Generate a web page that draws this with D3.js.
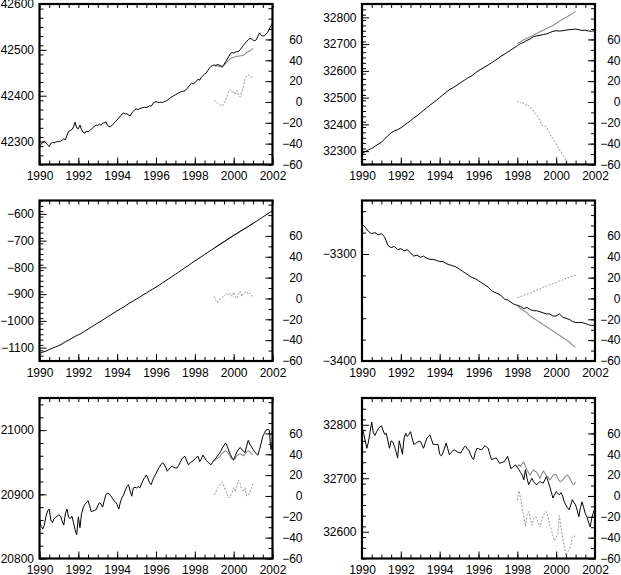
<!DOCTYPE html>
<html>
<head>
<meta charset="utf-8">
<script src="https://cdn.jsdelivr.net/npm/d3@7"></script>
<style>
body { margin: 0; background: #fff; }
text { font-family: "Liberation Sans", Arial, Helvetica, sans-serif; font-size: 12px; fill: #000; }
</style>
</head>
<body>
<svg id="chart" width="621" height="575"></svg>
<script>
// ---- data ----
const xYears = [1990, 1992, 1994, 1996, 1998, 2000, 2002];
const rightTicks = [-60, -40, -20, 0, 20, 40, 60];

// panel 1 (top left), monthly from 1990
const p1Black = [
  42290, 42294, 42298, 42300, 42297, 42293, 42289, 42296, 42298, 42297, 42299, 42300,
  42300, 42301, 42303, 42306, 42304, 42314, 42322, 42324, 42326, 42332, 42342, 42330,
  42328, 42336, 42326, 42320, 42318, 42323, 42321, 42324, 42327, 42330, 42334, 42336,
  42335, 42338, 42336, 42340, 42341, 42343, 42336, 42332, 42333, 42336, 42340, 42344,
  42347, 42352, 42355, 42360, 42362, 42360, 42361, 42358, 42356, 42362, 42366, 42370,
  42371, 42370, 42372, 42373, 42374, 42375, 42374, 42376, 42378, 42377, 42382, 42386,
  42387, 42386, 42385, 42386, 42385, 42387, 42388, 42390, 42393, 42396, 42398, 42400,
  42402, 42404, 42406, 42408, 42409, 42410, 42411, 42415, 42419, 42424, 42427, 42426,
  42428, 42432, 42436, 42434, 42440, 42444, 42447, 42449, 42455, 42460, 42464, 42466,
  42467, 42466, 42468, 42467, 42465, 42464, 42468, 42474, 42480, 42486, 42492, 42494,
  42493, 42495, 42496, 42497, 42500, 42505, 42510, 42514, 42518, 42522, 42525, 42524,
  42521, 42520, 42522, 42530, 42537, 42532, 42530, 42531, 42534, 42538, 42545, 42552,
  42558];
const p1Gray = [42466, 42465, 42465, 42464, 42463, 42462, 42466, 42470, 42474, 42478, 42481, 42483,
  42484, 42485, 42486, 42486, 42487, 42487, 42488, 42491, 42494, 42496, 42498, 42500, 42503];
const p1Diff = [2, 0, -1, -2, -3, -4, -1, 2, 6, 11, 12, 9, 10, 7, 11, 6, 5, 10, 14, 22, 25, 26, 25, 24, 22];

// panel 2 (top right), black and gray every two months
const p2Black = [
  32292, 32298, 32305, 32310, 32318, 32326,
  32333, 32345, 32358, 32368, 32376, 32380,
  32387, 32396, 32405, 32414, 32424, 32432,
  32442, 32452, 32462, 32472, 32481, 32490,
  32500, 32510, 32520, 32530, 32536, 32544,
  32552, 32560, 32568, 32576, 32582, 32592,
  32601, 32608, 32615, 32622, 32630, 32638,
  32646, 32655, 32662, 32670, 32678, 32686,
  32694, 32702, 32707, 32714, 32720, 32728,
  32731, 32733, 32736, 32738, 32743, 32748,
  32750, 32749, 32750, 32752, 32754, 32755,
  32756, 32754, 32751, 32752, 32749, 32748,
  32752];
const p2Gray = [32702, 32709, 32716, 32722, 32728, 32734, 32740, 32746, 32752, 32758,
  32764, 32770, 32778, 32786, 32793, 32800, 32807, 32814, 32822];
const p2Diff = [0, 1, -1, 0, -2, -3, -2, -4, -5, -7, -9, -11, -13, -15, -18, -22, -23, -23,
  -24, -27, -30, -33, -35, -38, -40, -43, -46, -48, -51, -53, -56, -59, -62, -66, -70, -73, -76];

// panel 3 (middle left)
const p3Black = [
  -1122, -1117, -1113, -1107, -1102, -1097,
  -1092, -1086, -1078, -1072, -1065, -1058,
  -1052, -1046, -1038, -1031, -1023, -1016,
  -1008, -1001, -993, -985, -978, -970,
  -962, -955, -949, -940, -932, -925,
  -918, -911, -903, -896, -888, -881,
  -874, -866, -858, -850, -842, -834,
  -826, -818, -809, -801, -793, -784,
  -776, -768, -760, -752, -744, -736,
  -728, -720, -712, -704, -696, -688,
  -680, -673, -665, -658, -651, -643,
  -636, -628, -620, -612, -604, -596,
  -588];
const p3Gray = [-728, -719, -712, -705, -697, -689, -681, -674, -666, -658, -651, -643, -636];
const p3Diff = [2, -2, -4, -1, 0, 1, 2, 4, 5, 3, 5, 2, 6, 2, 0, 4, 7, 2, 5, 6, 7, 4, 5, 3, 2];

// panel 4 (middle right)
const p4Black = [
  -3272, -3275, -3279, -3281, -3280, -3282,
  -3281, -3284, -3292, -3294, -3293, -3296,
  -3295, -3297, -3296, -3299, -3302, -3301,
  -3303, -3302, -3304, -3305, -3305, -3306,
  -3307, -3307, -3309, -3310, -3311, -3312,
  -3314, -3316, -3318, -3320, -3322, -3323,
  -3325, -3327, -3329, -3331, -3334, -3336,
  -3337, -3339, -3342, -3343, -3345, -3347,
  -3348, -3349, -3351, -3350, -3352, -3353,
  -3353, -3354, -3355, -3356, -3356, -3358,
  -3358, -3356, -3359, -3360, -3361, -3363,
  -3364, -3364, -3364, -3365, -3366, -3367,
  -3366];
const p4Gray = [-3348, -3351, -3353, -3355, -3358, -3360, -3362, -3364, -3366, -3368,
  -3370, -3372, -3374, -3376, -3378, -3380, -3382, -3385, -3387];
const p4Diff = [1, 1, 2, 2, 3, 4, 4, 5, 5, 6, 7, 7, 8, 9, 9, 10, 11, 11, 12, 13, 13,
  14, 14, 15, 15, 16, 17, 17, 18, 19, 19, 20, 20, 21, 21, 22, 22];

// panel 5 (bottom left), monthly
const p5Black = [
  20861, 20850, 20846, 20852, 20866, 20874, 20877, 20860, 20856, 20862, 20864, 20866,
  20868, 20866, 20858, 20852, 20870, 20877, 20864, 20862, 20866, 20856, 20845, 20837,
  20865, 20848, 20870, 20879, 20884, 20887, 20890, 20882, 20873, 20874, 20875, 20876,
  20882, 20887, 20885, 20880, 20890, 20899, 20902, 20901, 20898, 20894, 20890, 20888,
  20884, 20877, 20888, 20895, 20899, 20906, 20912, 20915, 20905, 20897, 20910, 20911,
  20910, 20912, 20910, 20916, 20922, 20926, 20930, 20925, 20918, 20915, 20922, 20928,
  20932, 20938, 20942, 20946, 20949, 20947, 20942, 20936, 20939, 20942, 20944, 20942,
  20941, 20941, 20945, 20950, 20955, 20958, 20959, 20952, 20946, 20948, 20951, 20952,
  20955, 20958, 20959, 20951, 20955, 20961, 20957, 20953, 20950, 20948, 20946, 20950,
  20954, 20956, 20960, 20963, 20967, 20972, 20976, 20980, 20975, 20968, 20962, 20957,
  20954, 20960, 20966, 20970, 20973, 20970, 20967, 20965, 20975, 20984, 20978, 20974,
  20970, 20966, 20963, 20961, 20970, 20980, 20990, 20995, 21000, 21001, 21000, 20970,
  20982];
const p5Gray = [20952, 20954, 20956, 20958, 20961, 20964, 20966, 20968, 20966, 20962, 20958, 20955,
  20953, 20956, 20960, 20962, 20963, 20962, 20960, 20962, 20966, 20968, 20966, 20963, 20962];
const p5Diff = [1, 4, 8, 10, 12, 13, 9, 5, 2, -2, 0, 3, 8, 4, 10, 15, 12, 6, 4, 8, 0, 1, 3, 8, 12];

// panel 6 (bottom right), monthly
const p6Black = [
  32797, 32784, 32770, 32756, 32768, 32787, 32805, 32785, 32780, 32787, 32792, 32796,
  32798, 32790, 32782, 32784, 32770, 32756, 32770, 32768, 32760, 32750, 32738, 32770,
  32758, 32745, 32775, 32784, 32778, 32782, 32787, 32775, 32763, 32765, 32767, 32769,
  32769, 32763, 32756, 32765, 32774, 32778, 32781, 32772, 32763, 32763, 32763, 32763,
  32745, 32742, 32747, 32756, 32766, 32755, 32744, 32748, 32751, 32753, 32751, 32749,
  32748, 32747, 32752, 32758, 32760, 32755, 32753, 32745, 32738, 32735, 32748, 32756,
  32755, 32754, 32753, 32757, 32761, 32758, 32756, 32745, 32735, 32736, 32737, 32738,
  32733, 32728, 32729, 32730, 32731, 32736, 32741, 32730, 32718, 32720, 32723, 32725,
  32720, 32716, 32711, 32706, 32697, 32716, 32700, 32688, 32694, 32700, 32694, 32690,
  32688, 32691, 32694, 32692, 32691, 32697, 32703, 32694, 32685, 32674, 32663, 32669,
  32675, 32672, 32669, 32673, 32667, 32656, 32650, 32645, 32641, 32650, 32660, 32655,
  32650, 32640, 32628, 32645, 32656, 32645, 32634, 32628, 32618, 32609, 32625, 32636,
  32644];
const p6Gray = [32722, 32725, 32722, 32728, 32730, 32722, 32716, 32710, 32706, 32712, 32715, 32713,
  32711, 32706, 32700, 32707, 32713, 32710, 32705, 32702, 32697, 32700, 32705, 32707,
  32707, 32700, 32695, 32694, 32697, 32700, 32704, 32706, 32702, 32697, 32690, 32688, 32693];
const p6Diff = [-4, 5, -2, -12, -20, -29, -18, -15, -22, -28, -22, -20, -21, -26, -30, -24, -19,
  -16, -15, -20, -28, -32, -38, -43, -40, -36, -19, -30, -40, -48, -57, -54, -52, -48, -40, -38, -40];

// ---- layout ----
const svg = d3.select('#chart');
const W = 233, H = 160.5;
const cols = [39.5, 362];
const rows = [4, 200.5, 398];
const rightLabelEnd = [30, 25.5];
const M = 1 / 12, B = 1 / 6;

const panels = [
  {col: 0, row: 0, left: [42250, 42600], leftTicks: [42300, 42400, 42500, 42600],
   black: [1990, M, p1Black], gray: [1999, M, p1Gray], diff: [1999, M, p1Diff]},
  {col: 1, row: 0, left: [32250, 32850], leftTicks: [32300, 32400, 32500, 32600, 32700, 32800],
   black: [1990, B, p2Black], gray: [1998, B, p2Gray], diff: [1998, M, p2Diff]},
  {col: 0, row: 1, left: [-1150, -550], leftTicks: [-1100, -1000, -900, -800, -700, -600],
   black: [1990, B, p3Black], gray: [1999, B, p3Gray], diff: [1999, M, p3Diff]},
  {col: 1, row: 1, left: [-3400, -3250], leftTicks: [-3400, -3300],
   black: [1990, B, p4Black], gray: [1998, B, p4Gray], diff: [1998, M, p4Diff]},
  {col: 0, row: 2, left: [20800, 21050], leftTicks: [20800, 20900, 21000],
   black: [1990, M, p5Black], gray: [1999, M, p5Gray], diff: [1999, M, p5Diff]},
  {col: 1, row: 2, left: [32550, 32850], leftTicks: [32600, 32700, 32800],
   black: [1990, M, p6Black], gray: [1998, M, p6Gray], diff: [1998, M, p6Diff]}
];

function pts(s) {
  return s[2].map((v, i) => [s[0] + i * s[1], v]);
}
function range(a, b, step) {
  const out = [];
  for (let v = a; v <= b + 1e-9; v += step) out.push(+v.toFixed(4));
  return out;
}

panels.forEach((p, k) => {
  const g = svg.append('g').attr('transform', `translate(${cols[p.col]},${rows[p.row]})`);
  const x = d3.scaleLinear().domain([1990, 2002]).range([0, W]);
  const yL = d3.scaleLinear().domain(p.left).range([H, 0]);
  const yR = d3.scaleLinear().domain([-60, 94]).range([H, 0]);

  g.append('clipPath').attr('id', 'clip' + k)
    .append('rect').attr('width', W).attr('height', H);
  const plot = g.append('g').attr('clip-path', `url(#clip${k})`);

  const lineL = d3.line().x(d => x(d[0])).y(d => yL(d[1]));
  const lineR = d3.line().x(d => x(d[0])).y(d => yR(d[1]));

  plot.append('path').attr('d', lineR(pts(p.diff)))
    .attr('fill', 'none').attr('stroke', '#999').attr('stroke-width', 1)
    .attr('stroke-dasharray', '2,1.5');
  plot.append('path').attr('d', lineL(pts(p.gray)))
    .attr('fill', 'none').attr('stroke', '#8c8c8c').attr('stroke-width', 1.1);
  plot.append('path').attr('d', lineL(pts(p.black)))
    .attr('fill', 'none').attr('stroke', '#000').attr('stroke-width', 1);

  // axes, ticks pointing inward
  const minorX = range(1990, 2002, 0.5);
  g.append('g').attr('transform', `translate(0,${H})`)
    .call(d3.axisBottom(x).tickValues(minorX).tickSize(-4).tickFormat(''));
  g.append('g').attr('transform', `translate(0,${H})`)
    .call(d3.axisBottom(x).tickValues(xYears).tickSize(-7).tickPadding(7).tickFormat(d3.format('d')));
  g.append('g')
    .call(d3.axisTop(x).tickValues(minorX).tickSize(-4).tickFormat(''));

  const minorL = range(p.left[0], p.left[1], 20);
  g.append('g').call(d3.axisLeft(yL).tickValues(minorL).tickSize(-4).tickFormat(''));
  g.append('g').call(d3.axisLeft(yL).tickValues(p.leftTicks).tickSize(-7).tickPadding(5.5).tickFormat(d3.format('d')));

  const minorR = range(-60, 90, 10);
  g.append('g').attr('transform', `translate(${W},0)`)
    .call(d3.axisRight(yR).tickValues(minorR).tickSize(-4).tickFormat(''));
  const ra = g.append('g').attr('transform', `translate(${W},0)`)
    .call(d3.axisRight(yR).tickValues(rightTicks).tickSize(-7).tickFormat(d3.format('d')));
  ra.selectAll('text').attr('x', rightLabelEnd[p.col]).attr('text-anchor', 'end');

  g.selectAll('.domain').remove();
  g.selectAll('.tick line').attr('stroke', '#000').attr('stroke-width', 1);
  g.selectAll('.tick text').attr('font-size', 12).attr('font-family', null);

  g.append('rect').attr('width', W).attr('height', H)
    .attr('fill', 'none').attr('stroke', '#000').attr('stroke-width', 2.2);
});
</script>
</body>
</html>
